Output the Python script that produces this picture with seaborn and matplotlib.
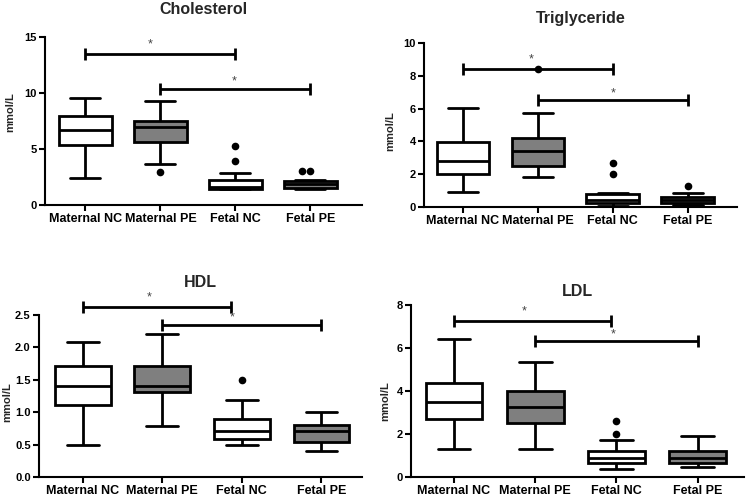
import matplotlib
matplotlib.use("Agg")
import matplotlib.pyplot as plt
import seaborn as sns
import pandas as pd

groups = ["Maternal NC", "Maternal PE", "Fetal NC", "Fetal PE"]
box_colors = ["white", "#7f7f7f", "white", "#7f7f7f"]

# whisker low, Q1, median, Q3, whisker high (mmol/L)
chol_boxes = [[2.44, 5.36, 6.70, 7.98, 9.58],
              [3.63, 5.65, 6.93, 7.53, 9.32],
              [1.40, 1.45, 1.60, 2.23, 2.82],
              [1.40, 1.55, 1.85, 2.10, 2.25]]
chol_outliers = [[], [2.92], [3.96, 5.29], [3.05, 3.05]]

tg_boxes = [[0.91, 2.00, 2.81, 3.99, 6.01],
            [1.80, 2.51, 3.42, 4.19, 5.71],
            [0.08, 0.25, 0.45, 0.79, 0.85],
            [0.15, 0.22, 0.45, 0.63, 0.84]]
tg_outliers = [[], [8.40], [1.99, 2.70], [1.30]]

hdl_boxes = [[0.49, 1.11, 1.40, 1.71, 2.09],
             [0.79, 1.31, 1.41, 1.71, 2.20],
             [0.49, 0.59, 0.71, 0.90, 1.19],
             [0.40, 0.54, 0.71, 0.80, 1.00]]
hdl_outliers = [[], [], [1.49], []]

ldl_boxes = [[1.30, 2.68, 3.50, 4.39, 6.42],
             [1.30, 2.50, 3.27, 4.00, 5.33],
             [0.37, 0.67, 0.87, 1.21, 1.71],
             [0.48, 0.67, 0.90, 1.21, 1.91]]
ldl_outliers = [[], [], [2.00, 2.60], []]

# significance brackets: (from, to, bracket level, asterisk x) on the category axis
chol_sig = [(0, 2, 13.45, 0.87), (1, 3, 10.4, 1.99)]
tg_sig = [(0, 2, 8.42, 0.91), (1, 3, 6.5, 2.0)]
hdl_sig = [(0, 1.86, 2.62, 0.83), (1, 3, 2.35, 1.88)]
ldl_sig = [(0, 1.93, 7.26, 0.86), (1, 3, 6.33, 1.96)]

chol_ticks = [0, 5, 10, 15]
tg_ticks = [0, 2, 4, 6, 8, 10]
hdl_ticks = [0.0, 0.5, 1.0, 1.5, 2.0, 2.5]
ldl_ticks = [0, 2, 4, 6, 8]


def expand(stats):
    # turn a five-number summary into a sample with the same quartiles
    lo, q1, med, q3, hi = stats
    return [lo] + [q1] * 10 + [med] * 10 + [q3] * 10 + [hi]


panels = [
    ("Cholesterol", chol_boxes, chol_outliers, chol_sig, chol_ticks, "{:.0f}"),
    ("Triglyceride", tg_boxes, tg_outliers, tg_sig, tg_ticks, "{:.0f}"),
    ("HDL", hdl_boxes, hdl_outliers, hdl_sig, hdl_ticks, "{:.1f}"),
    ("LDL", ldl_boxes, ldl_outliers, ldl_sig, ldl_ticks, "{:.0f}"),
]

# layout: axes rect, xlim, title pad, ylabel coords
layout = [
    ([0.0602, 0.5867, 0.4244, 0.3387], (-0.54, 3.69), 16.5, (-0.093, 0.55)),
    ([0.5676, 0.5827, 0.4190, 0.3306], (-0.52, 3.66), 14.4, (-0.091, 0.46)),
    ([0.0522, 0.0383, 0.4324, 0.3266], (-0.55, 3.51), 20.0, (-0.082, 0.46)),
    ([0.5502, 0.0383, 0.4458, 0.3468], (-0.53, 3.57), 6.5, (-0.062, 0.44)),
]
star_off = [7.0, 5.0]

sns.set_style("ticks")
plt.rcParams["font.family"] = ["Liberation Sans", "DejaVu Sans"]
plt.rcParams["font.weight"] = "bold"

fig = plt.figure(figsize=(7.47, 4.96), dpi=100)

for (title, boxes, outliers, sig, ticks, fmt), (rect, xlim, tpad, ylab) in zip(panels, layout):
    ax = fig.add_axes(rect)

    rows = []
    for g, s in zip(groups, boxes):
        for v in expand(s):
            rows.append((g, v))
    df = pd.DataFrame(rows, columns=["group", "value"])

    sns.boxplot(data=df, x="group", y="value", hue="group", order=groups,
                palette=dict(zip(groups, box_colors)), legend=False,
                linecolor="black", linewidth=2, width=0.7, whis=(0, 100),
                showfliers=False, capwidths=0.4, ax=ax)

    out_x, out_y = [], []
    for g, vals in zip(groups, outliers):
        for v in vals:
            out_x.append(g)
            out_y.append(v)
    if out_y:
        sns.swarmplot(x=out_x, y=out_y, order=groups, color="black", size=5.5, ax=ax)

    for i, (g0, g1, level, sx) in enumerate(sig):
        ax.plot([g0, g1], [level, level], color="black", lw=2, marker="|",
                markersize=9, markeredgewidth=2, clip_on=False, solid_capstyle="butt")
        ax.annotate("*", xy=(sx, level), xytext=(0, star_off[i]), textcoords="offset points",
                    ha="center", va="center", fontsize=9, fontweight="normal",
                    color="#444444", annotation_clip=False)

    ax.set_xlim(xlim)
    ax.set_ylim(ticks[0], ticks[-1])
    ax.set_yticks(ticks)
    ax.set_yticklabels([fmt.format(t) for t in ticks], fontsize=8, fontweight="bold")
    ax.set_xticks(range(len(groups)))
    ax.set_xticklabels(groups, fontsize=9, fontweight="bold")
    ax.set_xlabel("")
    ax.set_ylabel("mmol/L", fontsize=8, fontweight="bold")
    ax.yaxis.set_label_coords(*ylab)
    ax.set_title(title, fontsize=11.5, fontweight="bold", pad=tpad)

    for side in ["top", "right"]:
        ax.spines[side].set_visible(False)
    for side in ["left", "bottom"]:
        ax.spines[side].set_linewidth(1.5)
        ax.spines[side].set_color("black")
    ax.tick_params(axis="both", direction="out", length=4, width=1.5, color="black",
                   pad=2, labelcolor="black")

fig.savefig("out.png", dpi=100)
